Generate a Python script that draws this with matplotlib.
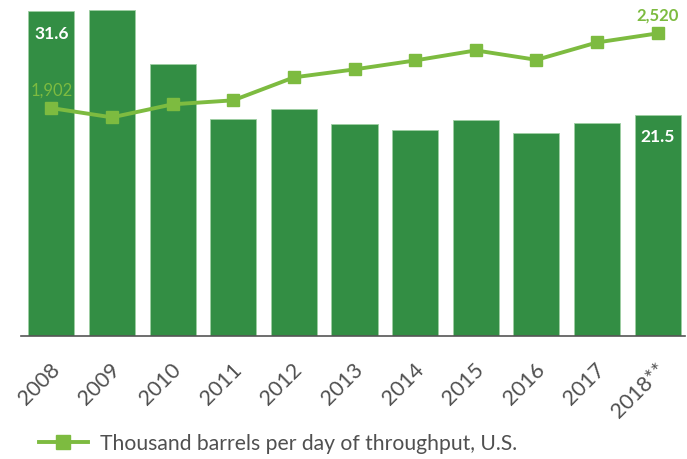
import matplotlib
matplotlib.use('Agg')
import matplotlib.pyplot as plt
import numpy as np

plt.rcParams['font.family'] = ['Lato', 'DejaVu Sans']

# data
years = ['2008', '2009', '2010', '2011', '2012', '2013', '2014', '2015',
         '2016', '2017', '2018**']
share = [31.6, 31.7, 26.4, 21.1, 22.1, 20.6, 20.0, 21.0, 19.7, 20.7, 21.5]
throughput = [1902, 1825, 1933, 1966, 2156, 2222, 2296, 2379, 2301, 2445, 2520]

bar_green = '#338e44'
line_green = '#7dbb40'
text_grey = '#505050'

fig = plt.figure(figsize=(6.87, 4.6), dpi=100)
ax = fig.add_axes([21 / 687, 123 / 460, 664 / 687, 332 / 460])
x = np.arange(len(years))

ax.bar(x, share, width=0.76, color=bar_green, edgecolor='#9fcfa3',
       linewidth=0.6, zorder=2)
ax.set_xlim(-0.5, 10.45)
ax.set_ylim(0, 32.28)
ax.set_yticks([])
for s in ['top', 'right', 'left']:
    ax.spines[s].set_visible(False)
ax.spines['bottom'].set_color('#555555')
ax.spines['bottom'].set_linewidth(1.2)
ax.set_xticks(x - 0.03)
ax.set_xticklabels(years, rotation=45, ha='right', va='top',
                   rotation_mode='anchor', fontsize=15.5, color=text_grey)
ax.tick_params(axis='x', length=0, pad=16.5)

# white labels in first and last bar
ax.text(x[0], share[0] - 2.1, '31.6', color='white', fontsize=12.5,
        fontweight='bold', ha='center', va='center', zorder=3)
ax.text(x[-1], share[-1] - 2.1, '21.5', color='white', fontsize=12.5,
        fontweight='bold', ha='center', va='center', zorder=3)

ax2 = ax.twinx()
ax2.plot(x, throughput, color=line_green, lw=2.8, marker='s', ms=8,
         zorder=4, label='Thousand barrels per day of throughput, U.S.')
ax2.set_ylim(16, 2763)
ax2.set_yticks([])
for s in ax2.spines.values():
    s.set_visible(False)
ax2.set_xlim(-0.5, 10.45)

ax2.text(x[0], throughput[0] + 90, '1,902', color=line_green, fontsize=12,
         ha='center', va='bottom')
ax2.text(x[-1], throughput[-1] + 90, '2,520', color=line_green, fontsize=12,
         fontweight='bold', ha='center', va='bottom')

leg = fig.legend(loc='center left', bbox_to_anchor=(20 / 687, 1 - 444 / 460),
                 frameon=False, fontsize=15.2, handlelength=2.3,
                 handletextpad=0.6, markerscale=1.25)
for t in leg.get_texts():
    t.set_color(text_grey)

fig.savefig('out.png', dpi=100)
